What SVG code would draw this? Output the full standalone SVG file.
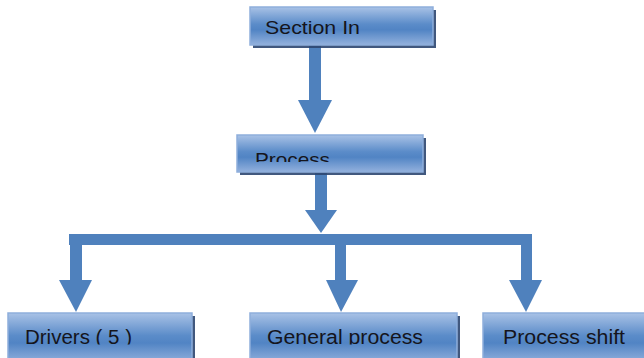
<svg xmlns="http://www.w3.org/2000/svg" width="644" height="358" viewBox="0 0 644 358">
<style>
.box{fill:url(#g);stroke:#8eaedb;stroke-width:1.5}
.sh{fill:#2c4670;opacity:0.9}
.t{font-family:"Liberation Sans",Arial,sans-serif;font-size:19px;fill:#15151c}
.tb{font-family:"Liberation Sans",Arial,sans-serif;font-size:20px;fill:#15151c}
.c{fill:#4f81bd}
</style>
<defs>
<linearGradient id="g" x1="0" y1="0" x2="0" y2="1">
<stop offset="0" stop-color="#a9c2e6"/>
<stop offset="0.45" stop-color="#5b8cc9"/>
<stop offset="0.6" stop-color="#5184c4"/>
<stop offset="1" stop-color="#93b1dd"/>
</linearGradient>
<clipPath id="cp"><rect x="0" y="0" width="644" height="162"/></clipPath>
<clipPath id="cb"><rect x="0" y="0" width="644" height="344.5"/></clipPath>
</defs>
<g id="connectors">
<rect class="c" x="309" y="45" width="12" height="56"/>
<polygon class="c" points="298,100 332,100 315,133"/>
<rect class="c" x="315" y="173" width="12" height="38"/>
<polygon class="c" points="305,210 337,210 321,233"/>
<rect class="c" x="69" y="234" width="463" height="11"/>
<rect class="c" x="70" y="234" width="12" height="47"/>
<polygon class="c" points="59,280 92,280 76,312"/>
<rect class="c" x="335" y="240" width="11" height="41"/>
<polygon class="c" points="326,280 358,280 341,312"/>
<rect class="c" x="521" y="234" width="11" height="47"/>
<polygon class="c" points="509,280 542,280 526,312"/>
</g>
<g id="section-in">
<rect class="sh" x="253" y="10" width="183" height="38"/>
<rect class="box" x="250" y="7" width="183" height="38"/>
<text class="t" x="265" y="34" textLength="95" lengthAdjust="spacingAndGlyphs">Section In</text>
</g>
<g id="process">
<rect class="sh" x="240" y="138" width="186" height="37"/>
<rect class="box" x="237" y="135" width="186" height="37"/>
<text class="t" x="255" y="166" textLength="75" lengthAdjust="spacingAndGlyphs" clip-path="url(#cp)">Process</text>
</g>
<g id="drivers">
<rect class="sh" x="11" y="316" width="184" height="50"/>
<rect class="box" x="8" y="313" width="184" height="50"/>
<text class="tb" x="25" y="344" textLength="107" lengthAdjust="spacingAndGlyphs" clip-path="url(#cb)">Drivers ( 5 )</text>
</g>
<g id="general-process">
<rect class="sh" x="253" y="316" width="207" height="50"/>
<rect class="box" x="250" y="313" width="207" height="50"/>
<text class="tb" x="267" y="344" textLength="156" lengthAdjust="spacingAndGlyphs" clip-path="url(#cb)">General process</text>
</g>
<g id="process-shift">
<rect class="sh" x="486" y="316" width="170" height="50"/>
<rect class="box" x="483" y="313" width="170" height="50"/>
<text class="tb" x="503" y="344" textLength="122" lengthAdjust="spacingAndGlyphs" clip-path="url(#cb)">Process shift</text>
</g>
</svg>
